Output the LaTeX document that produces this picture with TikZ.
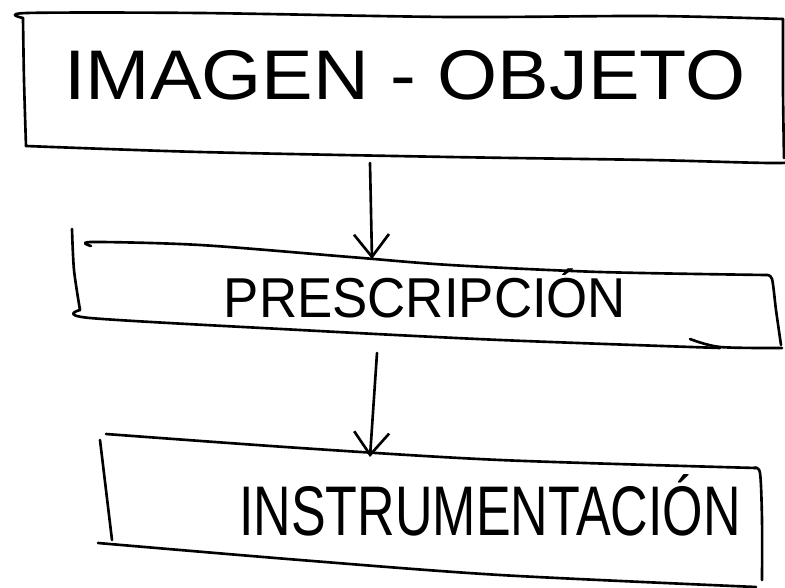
\documentclass[tikz,border=0pt]{standalone}
\usepackage{fontspec}
\setmainfont{Liberation Sans}
\usetikzlibrary{arrows.meta}

\tikzset{
  trazo/.style={line width=1.5pt, line cap=round, line join=round},
  flecha/.style={trazo, -{Straight Barb[length=4.5mm, width=7mm, line width=1.5pt]}},
  letra/.style={anchor=base, inner sep=0pt}
}

\begin{document}
\begin{tikzpicture}[x=0.02cm, y=-0.02cm]
\useasboundingbox (0,0) rectangle (785,588);
% imagen - objeto
\draw[trazo] plot[smooth] coordinates {(23,18) (27,13) (200,13) (450,17) (650,16) (783,19)};
\draw[trazo] plot[smooth] coordinates {(23,18) (24,80) (26,146)};
\draw[trazo] plot[smooth] coordinates {(26,146) (200,152) (450,157) (650,160) (781,163) (785,157)};
\draw[trazo] plot[smooth] coordinates {(783,19) (783,90) (784,158)};
\node[letra] (imagen) at (405,100) {\scalebox{1.1}[1]{\fontsize{40}{40}\selectfont IMAGEN - OBJETO}};
% prescripcion
\draw[trazo] plot[smooth] coordinates {(72,229) (74,270) (80,310)};
\draw[trazo] plot[smooth] coordinates {(91,246) (92,242) (200,245) (350,257) (450,265) (600,272) (766,275)};
\draw[trazo] plot[smooth] coordinates {(766,275) (772,279) (776,310) (781,345)};
\draw[trazo] plot[smooth] coordinates {(80,310) (90,318) (300,330) (500,340) (720,348)};
\draw[trazo] plot[smooth] coordinates {(690,339) (720,347) (782,348)};
\node[letra] (prescripcion) at (425,317) {\scalebox{0.94}[1]{\fontsize{32}{32}\selectfont PRESCRIPCIÓN}};
% instrumentacion
\draw[trazo] plot[smooth] coordinates {(106,434) (300,448) (500,460) (756,468)};
\draw[trazo] plot[smooth] coordinates {(100,440) (106,490) (112,540)};
\draw[trazo] plot[smooth] coordinates {(98,543) (300,560) (500,575) (756,587)};
\draw[trazo] plot[smooth] coordinates {(754,468) (760,473) (762,520) (762,580)};
\node[letra] (instrumentacion) at (490,535) {\scalebox{0.74}[1]{\fontsize{40}{40}\selectfont INSTRUMENTACIÓN}};
% flechas
\coordinate (imagen-s) at (370,163);
\coordinate (prescripcion-n) at (372,259);
\coordinate (prescripcion-s) at (377,353);
\coordinate (instrumentacion-n) at (370,457);
\path (imagen-s) edge[flecha] (prescripcion-n);
\path (prescripcion-s) edge[flecha] (instrumentacion-n);
\end{tikzpicture}
\end{document}
